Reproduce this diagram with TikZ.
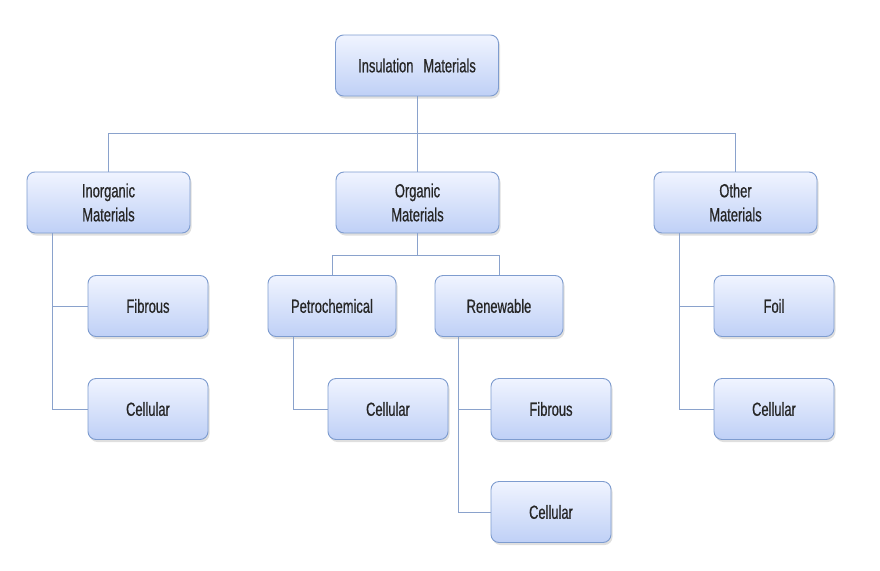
\documentclass[tikz,border=0pt]{standalone}
\usepackage{fontspec}
\setmainfont{Liberation Sans}[FakeStretch=0.68, FakeBold=0.6]
\usetikzlibrary{shadows,calc}
\definecolor{boxtop}{HTML}{F0F4FF}
\definecolor{boxbot}{HTML}{BFD0F6}
\definecolor{boxline}{HTML}{7E9CCF}
\definecolor{conncol}{HTML}{8AA2CC}
\definecolor{txt}{HTML}{262626}
\tikzset{
  box/.style={draw=boxline, line width=0.9pt, rounded corners=8pt,
    top color=boxtop, bottom color=boxbot, minimum height=61pt,
    text=txt, font=\fontsize{19}{24}\selectfont, align=center, inner sep=2pt,
    drop shadow={shadow xshift=1.5pt, shadow yshift=-2.5pt, opacity=0.25, fill=gray}},
  bigbox/.style={box, minimum width=163pt},
  midbox/.style={box, minimum width=128pt},
  smallbox/.style={box, minimum width=120pt},
  conn/.style={draw=conncol, line width=1pt}
}
\begin{document}
\begin{tikzpicture}[x=1pt,y=-1pt]
\useasboundingbox[fill=white] (0,0) rectangle (880,570);
\node[bigbox] (top) at (417,65.5) {Insulation\,\, Materials};
\node[bigbox] (inorg) at (108.5,202.5) {Inorganic\\Materials};
\node[bigbox] (org) at (417.5,202.5) {Organic\\Materials};
\node[bigbox] (other) at (735.5,202.5) {Other\\Materials};
\node[smallbox] (fib1) at (148,306) {Fibrous};
\node[smallbox] (cel1) at (148,409) {Cellular};
\node[midbox] (petro) at (332,306) {Petrochemical};
\node[midbox] (renew) at (499,306) {Renewable};
\node[smallbox] (cel2) at (388,409) {Cellular};
\node[smallbox] (fib3) at (551,409) {Fibrous};
\node[smallbox] (cel3) at (551,512) {Cellular};
\node[smallbox] (foil) at (774,306) {Foil};
\node[smallbox] (cel4) at (774,409) {Cellular};
\coordinate (bus) at (0,133);
\draw[conn] (top.south) -- (top.south |- bus);
\draw[conn] (inorg.north) -- (inorg.north |- bus) -- (other.north |- bus) -- (other.north);
\draw[conn] (org.north) -- (org.north |- bus);
\draw[conn] ([xshift=26]inorg.south west) |- (fib1.west);
\draw[conn] ([xshift=26]inorg.south west) |- (cel1.west);
\draw[conn] (org.south) -- ++(0,22) -| (petro.north);
\draw[conn] (org.south) -- ++(0,22) -| (renew.north);
\draw[conn] ([xshift=26]petro.south west) |- (cel2.west);
\draw[conn] ([xshift=24]renew.south west) |- (fib3.west);
\draw[conn] ([xshift=24]renew.south west) |- (cel3.west);
\draw[conn] ([xshift=26]other.south west) |- (foil.west);
\draw[conn] ([xshift=26]other.south west) |- (cel4.west);
\end{tikzpicture}
\end{document}
